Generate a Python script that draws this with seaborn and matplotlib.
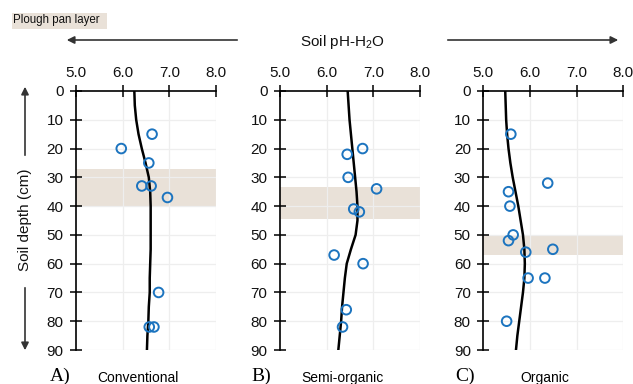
import numpy as np
import pandas as pd
import matplotlib
matplotlib.use("Agg")
import matplotlib.pyplot as plt
from matplotlib.patches import FancyArrowPatch, Rectangle
import seaborn as sns

# ---------------- data ----------------
conv_ph = [6.63, 5.97, 6.56, 6.41, 6.61, 6.96, 6.77, 6.57, 6.67]
conv_depth = [15, 20, 25, 33, 33, 37, 70, 82, 82]
semi_ph = [6.77, 6.44, 6.46, 7.07, 6.58, 6.70, 6.16, 6.78, 6.42, 6.34]
semi_depth = [20, 22, 30, 34, 41, 42, 57, 60, 76, 82]
org_ph = [5.59, 6.38, 5.54, 5.57, 5.64, 5.54, 6.49, 5.91, 5.96, 6.32, 5.50]
org_depth = [15, 32, 35, 40, 50, 52, 55, 56, 65, 65, 80]

curve_depth = [0, 5, 10, 15, 20, 25, 30, 35, 40, 45, 50, 55, 60, 65, 70, 75, 80, 85, 90]
conv_curve = [6.25, 6.26, 6.29, 6.34, 6.41, 6.49, 6.56, 6.59, 6.60, 6.60, 6.60, 6.60,
              6.59, 6.58, 6.58, 6.56, 6.55, 6.53, 6.52]
semi_curve = [6.45, 6.47, 6.49, 6.52, 6.55, 6.58, 6.61, 6.64, 6.66, 6.66, 6.62, 6.52,
              6.43, 6.39, 6.36, 6.33, 6.31, 6.28, 6.25]
org_curve = [5.47, 5.48, 5.49, 5.51, 5.54, 5.58, 5.63, 5.69, 5.75, 5.80, 5.85, 5.88,
             5.89, 5.88, 5.85, 5.81, 5.77, 5.73, 5.70]

plough_pan = [(27, 40), (33.5, 44.5), (50, 57)]
panel_letters = ["A)", "B)", "C)"]
panel_names = ["Conventional", "Semi-organic", "Organic"]
x_ticks = [5.0, 6.0, 7.0, 8.0]
x_ticklabels = ["5.0", "6.0", "7.0", "8.0"]
y_ticks = [0, 10, 20, 30, 40, 50, 60, 70, 80, 90]

# ---------------- style ----------------
sns.set_theme(style="white")
plt.rcParams["font.family"] = ["Liberation Sans", "DejaVu Sans"]
plt.rcParams["mathtext.fontset"] = "custom"
plt.rcParams["mathtext.rm"] = "Liberation Sans"
plt.rcParams["mathtext.it"] = "Liberation Sans:italic"

BLUE = "#1c74bf"
BAND = "#e9e1d8"
GRID = "#eeeeee"
W, H = 633, 384

fig = plt.figure(figsize=(W / 100, H / 100), dpi=100)
fig.patch.set_facecolor("white")


def fx(x):
    return x / W


def fy(y):
    return 1 - y / H


lefts = [76, 280, 483.3]
ax_w = 140
ax_top, ax_bot = 91, 350

pts = [(conv_ph, conv_depth), (semi_ph, semi_depth), (org_ph, org_depth)]
curves = [conv_curve, semi_curve, org_curve]

for i in range(3):
    ax = fig.add_axes([fx(lefts[i]), fy(ax_bot), ax_w / W, (ax_bot - ax_top) / H])
    ax.set_facecolor("white")
    top, bot = plough_pan[i]
    ax.axhspan(top, bot, color=BAND, zorder=0, lw=0)
    for xt in x_ticks[1:]:
        ax.axvline(xt, color=GRID, lw=0.9, zorder=0.5)
    for yt in y_ticks[1:]:
        ax.axhline(yt, color=GRID, lw=0.9, zorder=0.5)

    sns.lineplot(x=curves[i], y=curve_depth, sort=False, estimator=None,
                 color="black", linewidth=1.8, ax=ax, zorder=3)
    sns.scatterplot(x=pts[i][0], y=pts[i][1], ax=ax, s=48, color=BLUE,
                    facecolor="none", edgecolor=BLUE, linewidth=1.4, zorder=4)

    ax.set_xlim(5, 8)
    ax.set_ylim(90, 0)
    ax.set_xticks(x_ticks)
    ax.set_xticklabels(x_ticklabels)
    ax.set_yticks(y_ticks)
    ax.xaxis.tick_top()
    ax.tick_params(axis="x", top=True, bottom=False, labeltop=True, labelbottom=False,
                   direction="inout", length=8, width=1.1, color="black",
                   labelsize=11, pad=4, labelcolor="#111111")
    ax.tick_params(axis="y", left=True, right=False, direction="inout", length=8,
                   width=1.1, color="black", labelsize=11, pad=5, labelcolor="#111111")
    ax.set_xlabel("")
    ax.set_ylabel("")
    for s in ["right", "bottom"]:
        ax.spines[s].set_visible(False)
    for s in ["top", "left"]:
        ax.spines[s].set_visible(True)
        ax.spines[s].set_color("black")
        ax.spines[s].set_linewidth(1.2)
    ax.grid(False)

# panel labels
letter_x = [60, 261, 465]
name_x = [138, 342, 545]
for i in range(3):
    fig.text(fx(letter_x[i]), fy(376), panel_letters[i], family="Liberation Serif",
             fontsize=14, ha="center", va="center", color="black")
    fig.text(fx(name_x[i]), fy(378), panel_names[i], fontsize=10, ha="center",
             va="center", color="black")

# legend box
fig.add_artist(Rectangle((fx(12), fy(28.5)), 95 / W, 16 / H, transform=fig.transFigure,
                         facecolor=BAND, edgecolor="none", zorder=1))
fig.text(fx(13), fy(20.5), "Plough pan layer", fontsize=8.3, ha="left", va="center",
         color="#111111", zorder=2)

# top title with arrows
fig.text(fx(342), fy(42), "Soil pH-H$_2$O", fontsize=11, ha="center", va="center",
         color="#111111")
arrow_kw = dict(arrowstyle="-|>", mutation_scale=11, color="#333333", lw=1.2,
                transform=fig.transFigure)
fig.add_artist(FancyArrowPatch((fx(240), fy(40)), (fx(64), fy(40)), **arrow_kw))
fig.add_artist(FancyArrowPatch((fx(445), fy(40)), (fx(621), fy(40)), **arrow_kw))

# left axis title with arrows
fig.text(fx(25), fy(220), "Soil depth (cm)", fontsize=11, rotation=90, ha="center",
         va="center", color="#111111")
fig.add_artist(FancyArrowPatch((fx(25), fy(158)), (fx(25), fy(84)), **arrow_kw))
fig.add_artist(FancyArrowPatch((fx(25), fy(285)), (fx(25), fy(353)), **arrow_kw))

fig.savefig("out.png", dpi=100)
